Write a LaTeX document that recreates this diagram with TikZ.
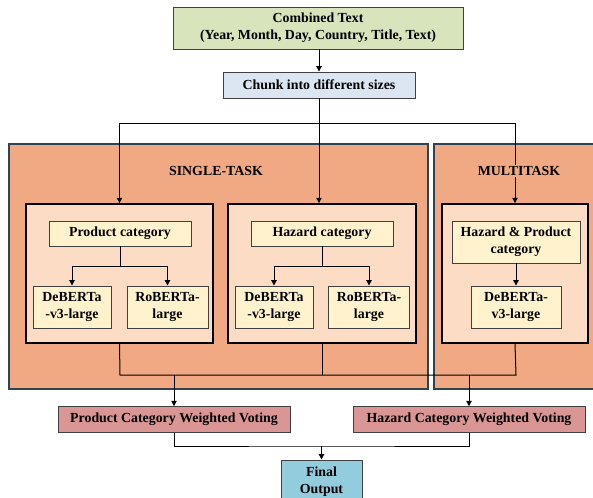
\documentclass[tikz,border=0pt]{standalone}
\usepackage{fontspec}
\setmainfont{Liberation Serif}
\usepackage{xcolor}
\usepackage{tikz}
\usetikzlibrary{arrows.meta, positioning, calc}
\definecolor{inputgreen}{RGB}{216, 228, 188}
\definecolor{chunkblue}{RGB}{220, 230, 242}
\definecolor{panelsalmon}{RGB}{240, 169, 130}
\definecolor{groupfill}{RGB}{252, 220, 197}
\definecolor{catyellow}{RGB}{255, 242, 204}
\definecolor{voterose}{RGB}{217, 150, 148}
\definecolor{finalblue}{RGB}{147, 205, 221}
\definecolor{panelborder}{RGB}{46, 68, 84}
\definecolor{boxborder}{RGB}{64, 64, 64}
\tikzset{
  txt/.style={font=\fontsize{10.4}{13}\selectfont\bfseries, align=center},
  plainbox/.style={txt, draw=boxborder, line width=0.7pt, inner sep=0pt},
  panel/.style={draw=panelborder, line width=1.2pt, fill=panelsalmon},
  groupbox/.style={draw=black, line width=1.6pt, fill=groupfill, inner sep=0pt},
  catbox/.style={plainbox, fill=catyellow},
  link/.style={line width=0.75pt},
  arrow/.style={link, -{Triangle[length=4pt, width=4pt]}}
}

\begin{document}
\begin{tikzpicture}[x=0.75pt, y=-0.75pt]
    \useasboundingbox (0,0) rectangle (593,497);

    % Input and chunking
    \node[plainbox, fill=inputgreen, minimum width=217.5pt, minimum height=31.5pt,
          font=\fontsize{10.4}{12.5}\selectfont\bfseries] (combined) at (318,28)
          {Combined Text\\(Year, Month, Day, Country, Title, Text)};
    \node[plainbox, fill=chunkblue, minimum width=144pt, minimum height=19.5pt] (chunk) at (319,85)
          {Chunk into different sizes};

    % Task panels
    \draw[panel] (9,144) rectangle (428,389);
    \draw[panel] (434,144) rectangle (600,389);

    % Model groups
    \node[groupbox, minimum width=140pt, minimum height=104pt] (prodbox) at (119.5,273.5) {};
    \node[groupbox, minimum width=141pt, minimum height=104pt] (hazbox) at (322,273.5) {};
    \node[groupbox, minimum width=109.5pt, minimum height=104pt] (multibox) at (515,273.5) {};

    % Split from chunk to the three groups
    \coordinate (split) at (321,123);
    \draw[link] (chunk.south) -- (chunk.south |- split);
    \draw[arrow] (chunk.south |- split) -| (prodbox.north);
    \draw[arrow] (chunk.south |- split) -| (multibox.north);
    \draw[arrow] (chunk.south |- split) -- (chunk.south |- prodbox.north);

    \node[txt, fill=panelsalmon, inner sep=1pt] (single) at (216,171) {SINGLE-TASK};
    \node[txt, fill=panelsalmon, inner sep=1pt] (multi) at (519,171) {MULTITASK};

    % Single-task: product
    \node[catbox, minimum width=106.5pt, minimum height=18.75pt] (prodcat) at (120,233.5) {Product category};
    \node[catbox, minimum width=58.5pt, minimum height=31.5pt] (debP) at (72,307) {DeBERTa\\-v3-large};
    \node[catbox, minimum width=60.75pt, minimum height=31.5pt] (robP) at (167.5,307) {RoBERTa-\\large};
    \coordinate (prodsplit) at (120,266);
    \draw[link] (prodcat.south) -- (prodsplit);
    \draw[arrow] (prodsplit) -| (debP.north);
    \draw[arrow] (prodsplit) -| (robP.north);

    % Single-task: hazard
    \node[catbox, minimum width=106.5pt, minimum height=18.75pt] (hazcat) at (322,233.5) {Hazard category};
    \node[catbox, minimum width=58.5pt, minimum height=31.5pt] (debH) at (274,307) {DeBERTa\\-v3-large};
    \node[catbox, minimum width=60.75pt, minimum height=31.5pt] (robH) at (369,307) {RoBERTa-\\large};
    \coordinate (hazsplit) at (322,266);
    \draw[link] (hazcat.south) -- (hazsplit);
    \draw[arrow] (hazsplit) -| (debH.north);
    \draw[arrow] (hazsplit) -| (robH.north);

    % Multitask
    \node[catbox, minimum width=96pt, minimum height=31.5pt] (hpcat) at (516,242) {Hazard \& Product\\category};
    \node[catbox, minimum width=67.5pt, minimum height=31.5pt] (debM) at (516,307) {DeBERTa-\\v3-large};
    \draw[arrow] (hpcat.south) -- (debM.north);

    % Voting
    \node[plainbox, fill=voterose, minimum width=174pt, minimum height=19.2pt] (voteP) at (174,419.5)
          {Product Category Weighted Voting};
    \node[plainbox, fill=voterose, minimum width=174pt, minimum height=19.2pt] (voteH) at (469,419.5)
          {Hazard Category Weighted Voting};
    \coordinate (mergeL) at (120,375);
    \coordinate (mergeR) at (516,375);
    \draw[link] (prodbox.south) -- (mergeL) -- (mergeR) -- (multibox.south);
    \draw[link] (hazbox.south) -- (hazbox.south |- mergeL);
    \draw[arrow] (voteP.north |- mergeL) -- (voteP.north);
    \draw[arrow] (voteH.north |- mergeL) -- (voteH.north);

    % Final output
    \node[plainbox, fill=finalblue, minimum width=60.75pt, minimum height=32.25pt,
          font=\fontsize{10.4}{13}\selectfont\bfseries] (final) at (321.5,481.5) {Final\\Output};
    \coordinate (join) at (321.5,446);
    \draw[link] (voteP.south) |- (join) -| (voteH.south);
    \draw[arrow] (join) -- (final.north);

    % Combined to chunk
    \draw[arrow] (combined.south -| chunk.south) -- (chunk.north);
\end{tikzpicture}
\end{document}
